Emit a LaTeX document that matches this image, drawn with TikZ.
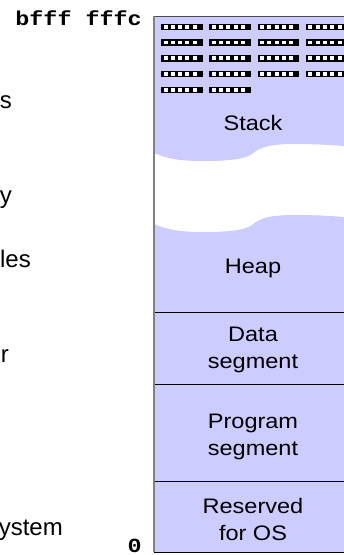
\documentclass[tikz,border=0pt]{standalone}
\usepackage{fontspec}
\setmainfont{Liberation Sans}
\newfontfamily\codefont{Liberation Mono}
\usetikzlibrary{calc}

\definecolor{memblue}{RGB}{204,204,255}
\definecolor{edgegray}{RGB}{128,128,128}

\tikzset{
  seglabel/.style={font=\fontsize{21}{27}\selectfont, align=center, inner sep=0pt, xscale=1.12},
  sidetext/.style={font=\fontsize{24}{28}\selectfont, anchor=base east, inner sep=0pt},
  addr/.style={font=\codefont\bfseries\fontsize{20}{20}\selectfont, anchor=base east, inner sep=0pt, xscale=1.17},
}

\begin{document}
\begin{tikzpicture}[x=1pt,y=-1pt]
    \useasboundingbox (0,0) rectangle (344,555);
    \clip (0,0) rectangle (344,555);

    % Define column corners
    \coordinate (TL) at (154,16);
    \coordinate (TR) at (356,16);
    \coordinate (BL) at (154,552);
    \coordinate (BR) at (356,552);

    % Stack area, down to its wavy edge
    \fill[memblue] (TL) -- (TR) -- (356,147)
        .. controls (335,145) and (315,144) .. (295,144)
        .. controls (270,144) and (260,147) .. (252,154)
        .. controls (245,159) and (230,161) .. (205,161)
        .. controls (185,161) and (170,160) .. (154,153) -- cycle;

    % Heap and the segments below it
    \fill[memblue] (154,224)
        .. controls (170,231) and (185,232) .. (205,232)
        .. controls (230,232) and (245,230) .. (252,225)
        .. controls (260,218) and (270,215) .. (295,215)
        .. controls (315,215) and (335,216) .. (356,218)
        -- (BR) -- (BL) -- cycle;

    % Memory words at the top of the stack
    \foreach \row in {0,...,4}{
      \foreach \col in {0,...,3}{
        \pgfmathtruncatemacro{\idx}{4*\row+\col}
        \ifnum\idx<18
          \fill (161+48.3*\col, 23.5+15.75*\row) rectangle ++(41.5,6.5);
          \foreach \c in {0,...,4}
            \fill[white] (163.5+48.3*\col+7.3*\c, 24.8+15.75*\row) rectangle ++(4,3.9);
        \fi
      }
    }

    % Dividing lines
    \coordinate (D1) at (154,312);
    \coordinate (D2) at (154,384);
    \coordinate (D3) at (154,481);
    \draw (D1) -- ++(202,0);
    \draw (D2) -- ++(202,0);
    \draw (D3) -- ++(202,0);
    \draw (BL) -- (BR);
    \draw[black!70, line width=0.8pt] (TL) -- (TR);
    \draw[edgegray, line width=1.3pt] (TL) -- (BL);

    % Segment labels
    \node[seglabel, anchor=base] (stack) at (253,130) {Stack};
    \node[seglabel, anchor=base] (heap) at (253,273) {Heap};
    \node[seglabel] (data) at (253,349.5) {Data\\segment};
    \node[seglabel] (prog) at (253,436.5) {Program\\segment};
    \node[seglabel] (resv) at (253,519) {Reserved\\for OS};

    % Addresses
    \node[addr] (top) at (142,25) {bfff fffc};
    \node[addr] (zero) at (142,552) {0};

    % Text cut off at the left edge
    \node[sidetext] (s1) at (12,108) {s};
    \node[sidetext] (s2) at (12,203) {y};
    \node[sidetext] (s3) at (31,267) {les};
    \node[sidetext] (s4) at (9,362) {r};
    \node[sidetext] (s5) at (63,535) {ystem};
\end{tikzpicture}
\end{document}
